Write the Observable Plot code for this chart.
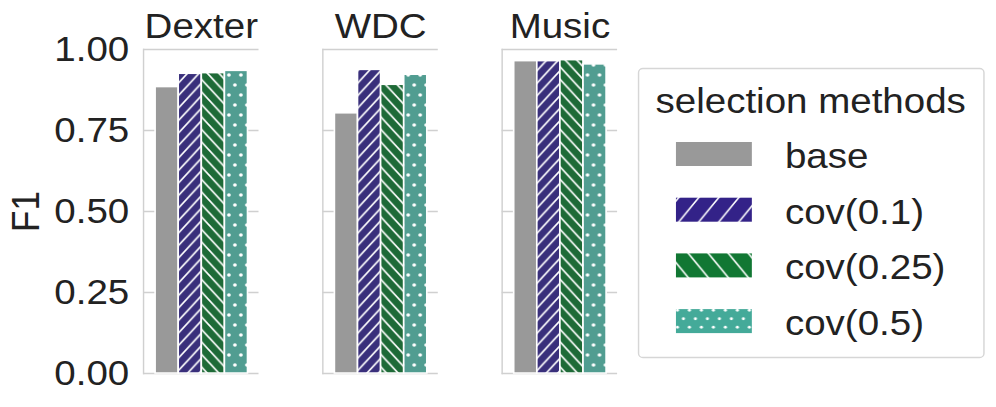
<!DOCTYPE html>
<html>
<head>
<meta charset="utf-8">
<script src="https://cdn.jsdelivr.net/npm/d3@7"></script>
<script src="https://cdn.jsdelivr.net/npm/@observablehq/plot@0.6"></script>
<style>
  html, body { margin: 0; padding: 0; background: #ffffff; overflow: hidden; }
  #wrap { position: relative; width: 905.5px; height: 407px; transform: scaleX(1.1); transform-origin: 0 0; }
  #chart { position: absolute; left: 0; top: 0; }
  #legend { position: absolute; left: 0; top: 0; }
</style>
</head>
<body>
<svg width="0" height="0" style="position:absolute">
  <defs>
    <pattern id="hatchBlue" patternUnits="userSpaceOnUse" width="10.5" height="12.5">
      <rect width="10.5" height="12.5" fill="#392f7b"/>
      <path d="M0,12.5 L10.5,0 M-2.625,3.125 L2.625,-3.125 M7.875,15.625 L13.125,9.375" stroke="#ffffff" stroke-width="1.6"/>
    </pattern>
    <pattern id="hatchGreen" patternUnits="userSpaceOnUse" width="10.5" height="12.5">
      <rect width="10.5" height="12.5" fill="#1e6a37"/>
      <path d="M0,0 L10.5,12.5 M-2.625,9.375 L2.625,15.625 M7.875,-3.125 L13.125,3.125" stroke="#ffffff" stroke-width="1.6"/>
    </pattern>
    <pattern id="dotsTeal" patternUnits="userSpaceOnUse" width="10.9" height="20">
      <rect width="10.9" height="20" fill="#519d91"/>
      <circle cx="5.45" cy="5" r="1.7" fill="#ffffff"/>
      <circle cx="0" cy="15" r="1.7" fill="#ffffff"/>
      <circle cx="10.9" cy="15" r="1.7" fill="#ffffff"/>
    </pattern>
    <pattern id="legHatchBlue" patternUnits="userSpaceOnUse" width="18.2" height="24.4">
      <rect width="18.2" height="24.4" fill="#332288"/>
      <path d="M0,24.4 L18.2,0 M-4.55,6.1 L4.55,-6.1 M13.65,30.5 L22.75,18.3" stroke="#ffffff" stroke-width="1.5"/>
    </pattern>
    <pattern id="legHatchGreen" patternUnits="userSpaceOnUse" width="18.2" height="24.4">
      <rect width="18.2" height="24.4" fill="#117733"/>
      <path d="M0,0 L18.2,24.4 M-4.55,18.3 L4.55,30.5 M13.65,-6.1 L22.75,6.1" stroke="#ffffff" stroke-width="1.5"/>
    </pattern>
    <pattern id="legDotsTeal" patternUnits="userSpaceOnUse" width="10.9" height="17">
      <rect width="10.9" height="17" fill="#44aa99"/>
      <circle cx="5.45" cy="4.25" r="1.4" fill="#ffffff"/>
      <circle cx="0" cy="12.75" r="1.4" fill="#ffffff"/>
      <circle cx="10.9" cy="12.75" r="1.4" fill="#ffffff"/>
    </pattern>
  </defs>
</svg>
<div id="wrap">
  <div id="chart"></div>
  <svg id="legend" width="905.5" height="407"></svg>
</div>
<script>
// ---- data ----
const datasets = ["Dexter", "WDC", "Music"];
const methods = ["base", "cov(0.1)", "cov(0.25)", "cov(0.5)"];
const f1Base   = [0.884, 0.803, 0.964];
const f1Cov01  = [0.925, 0.937, 0.964];
const f1Cov025 = [0.927, 0.891, 0.967];
const f1Cov05  = [0.934, 0.922, 0.954];
const yTicks = [0, 0.25, 0.5, 0.75, 1];
const legendTitle = "selection methods";
const yLabel = "F1";

// ---- styles ----
const barFills = ["#999999", "url(#hatchBlue)", "url(#hatchGreen)", "url(#dotsTeal)"];
const legendFills = ["#999999", "url(#legHatchBlue)", "url(#legHatchGreen)", "url(#legDotsTeal)"];
const textColor = "#222222";
const gridColor = "#d0d0d0";
const fontFamily = "'Liberation Sans', Arial, Helvetica, sans-serif";

const series = [f1Base, f1Cov01, f1Cov025, f1Cov05];
const data = datasets.flatMap((ds, i) =>
  methods.map((m, j) => ({dataset: ds, method: m, value: series[j][i]}))
);

const chart = Plot.plot({
  width: 580,
  height: 407,
  marginLeft: 129,
  marginRight: 18,
  marginTop: 49,
  marginBottom: 34,
  style: {fontFamily, fontSize: "35px", color: textColor, background: "transparent", overflow: "visible"},
  fx: {domain: datasets, paddingInner: 0.355, paddingOuter: 0},
  x: {domain: methods, paddingInner: 0, paddingOuter: 0.5, axis: null},
  y: {domain: [0, 1]},
  color: {type: "identity"},
  marks: [
    Plot.gridY(yTicks, {stroke: gridColor, strokeOpacity: 1, strokeWidth: 1.3}),
    Plot.frame({anchor: "left", stroke: gridColor, strokeOpacity: 1, strokeWidth: 1.3}),
    Plot.barY(data, {
      fx: "dataset", x: "method", y: "value",
      fill: d => barFills[methods.indexOf(d.method)],
      stroke: "#ffffff", strokeWidth: 1.5
    }),
    Plot.axisY(yTicks, {
      tickFormat: d3.format(".2f"), tickSize: 0, tickPadding: 13,
      fontSize: 35, label: yLabel, labelArrow: "none", labelAnchor: "center", labelOffset: 120, color: textColor
    }),
    Plot.axisFx({anchor: "top", label: null, tickSize: 0, tickPadding: 12, fontSize: 35, color: textColor})
  ]
});
document.getElementById("chart").appendChild(chart);

// ---- legend ----
const leg = d3.select("#legend");
leg.append("rect")
  .attr("x", 580.5).attr("y", 68.5).attr("width", 314).attr("height", 289).attr("rx", 4)
  .attr("fill", "#ffffff").attr("stroke", "#d6d6d6").attr("stroke-width", 1.3);
leg.append("text")
  .attr("x", 737).attr("y", 113).attr("text-anchor", "middle")
  .attr("font-family", fontFamily).attr("font-size", 35).attr("fill", textColor)
  .text(legendTitle);
methods.forEach((m, i) => {
  const y0 = 142 + i * 55.7;
  leg.append("rect")
    .attr("x", 614.5).attr("y", y0).attr("width", 69).attr("height", 24)
    .attr("fill", legendFills[i]);
  leg.append("text")
    .attr("x", 713.6).attr("y", y0 + 26)
    .attr("font-family", fontFamily).attr("font-size", 35).attr("fill", textColor)
    .text(m);
});
</script>
</body>
</html>
